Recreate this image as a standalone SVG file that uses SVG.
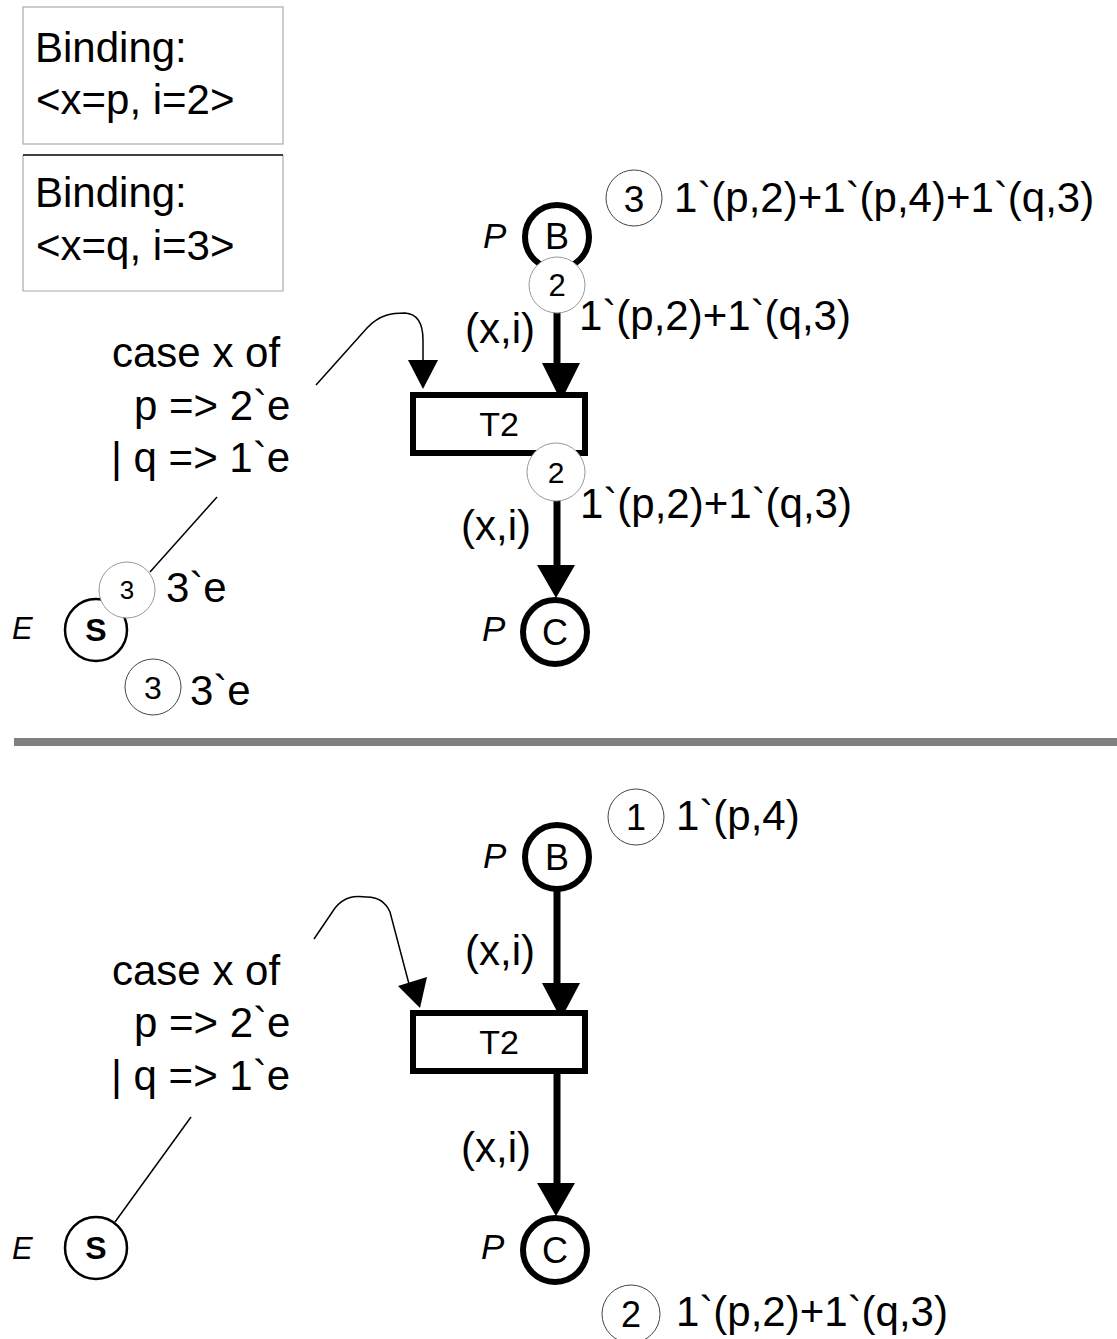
<svg xmlns="http://www.w3.org/2000/svg" width="1117" height="1339" viewBox="0 0 1117 1339">
<style>
text{font-family:"Liberation Sans",Arial,sans-serif;fill:#000}
.big{font-size:42px}
.it{font-style:italic;font-size:35px}
.place{fill:#fff;stroke:#000;stroke-width:6}
.splace{fill:#fff;stroke:#000;stroke-width:2.5}
.trans{fill:#fff;stroke:#000;stroke-width:6}
.tok{fill:#fff;stroke:#444;stroke-width:1}
.tokl{fill:#fff;stroke:#999;stroke-width:1}
.arc{stroke:#000;stroke-width:7;fill:none}
.thin{stroke:#000;stroke-width:1.5;fill:none}
.head{fill:#000}
.box{fill:#fff;stroke:#aaa;stroke-width:1.2}
</style>
<rect width="1117" height="1339" fill="#fff"/>

<!-- Binding boxes -->
<g id="binding1">
<rect class="box" x="23" y="7" width="260" height="137"/>
<text class="big" x="35" y="62">Binding:</text>
<text class="big" x="36" y="114">&lt;x=p, i=2&gt;</text>
</g>
<g id="binding2">
<path d="M23 155 V291 H283 V155" fill="#fff" stroke="#aaa" stroke-width="1.2"/>
<line x1="23" y1="155" x2="283" y2="155" stroke="#000" stroke-width="1.5"/>
<text class="big" x="35" y="207">Binding:</text>
<text class="big" x="36" y="260">&lt;x=q, i=3&gt;</text>
</g>

<!-- Connectors -->
<g id="connectors">
<line class="arc" x1="557" y1="268" x2="557" y2="366"/>
<polygon class="head" points="542,363 580,363 561,401"/>
<line class="arc" x1="557" y1="456" x2="557" y2="568"/>
<polygon class="head" points="537,565 575,565 556,598"/>
<path class="thin" d="M316 385 L367 328 C380 314 393 313 405 313 C419 314 423 325 423 340 L423 362"/>
<polygon class="head" points="408,360 438,360 423,389"/>
<line class="thin" x1="217" y1="497" x2="150" y2="572"/>

<line class="arc" x1="557" y1="889" x2="557" y2="986"/>
<polygon class="head" points="542,983 580,983 561,1019"/>
<line class="arc" x1="557" y1="1074" x2="557" y2="1186"/>
<polygon class="head" points="537,1183 575,1183 556,1216"/>
<path class="thin" d="M314 939 L335 908 C347 893 360 897 367 897 C378 897 386 903 390 912 L409 984"/>
<polygon class="head" points="398,986 427,977 420,1008"/>
<line class="thin" x1="191" y1="1117" x2="115" y2="1222"/>
</g>

<!-- Upper net -->
<g id="placeB1">
<circle class="place" cx="557" cy="237" r="32"/>
<text x="557" y="249" font-size="36" text-anchor="middle">B</text>
<text class="it" x="483" y="248">P</text>
</g>
<g id="tokB1">
<circle class="tok" cx="634" cy="198" r="28"/>
<text x="634" y="212" font-size="37" text-anchor="middle">3</text>
<text class="big" x="674" y="212">1`(p,2)+1`(p,4)+1`(q,3)</text>
</g>
<g id="bindTokIn1">
<circle class="tokl" cx="557" cy="285" r="28"/>
<text x="557" y="296" font-size="31" text-anchor="middle">2</text>
<text class="big" x="579" y="330">1`(p,2)+1`(q,3)</text>
</g>
<g id="transT2a">
<rect class="trans" x="413" y="395" width="172" height="58"/>
<text x="499" y="436" font-size="34" text-anchor="middle">T2</text>
</g>
<g id="bindTokOut1">
<circle class="tokl" cx="556" cy="472" r="29"/>
<text x="556" y="483" font-size="30" text-anchor="middle">2</text>
<text class="big" x="580" y="518">1`(p,2)+1`(q,3)</text>
</g>
<text class="big" x="465" y="343">(x,i)</text>
<text class="big" x="461" y="540">(x,i)</text>
<g id="placeC1">
<circle class="place" cx="555" cy="632" r="32"/>
<text x="555" y="645" font-size="36" text-anchor="middle">C</text>
<text class="it" x="482" y="641">P</text>
</g>
<g id="inscr1">
<text class="big" x="112" y="367">case x of</text>
<text class="big" x="134" y="420">p =&gt; 2`e</text>
<text class="big" x="111" y="472">| q =&gt; 1`e</text>
</g>
<g id="placeS1">
<circle class="splace" cx="96" cy="630" r="31"/>
<text x="96" y="641" font-size="32" font-weight="bold" text-anchor="middle">S</text>
<text x="12" y="639" font-size="31" font-style="italic">E</text>
</g>
<g id="tokS1">
<circle class="tokl" cx="127" cy="590" r="28"/>
<text x="127" y="599" font-size="26" text-anchor="middle">3</text>
<text class="big" x="166" y="602">3`e</text>
</g>
<g id="tokS1b">
<circle class="tok" cx="153" cy="687" r="28"/>
<text x="153" y="699" font-size="32" text-anchor="middle">3</text>
<text class="big" x="190" y="705">3`e</text>
</g>

<!-- separator -->
<rect x="14" y="738" width="1103" height="8" fill="#808080"/>

<!-- Lower net -->
<g id="placeB2">
<circle class="place" cx="557" cy="857" r="32"/>
<text x="557" y="870" font-size="36" text-anchor="middle">B</text>
<text class="it" x="483" y="868">P</text>
</g>
<g id="tokB2">
<circle class="tok" cx="636" cy="817" r="28"/>
<text x="636" y="830" font-size="36" text-anchor="middle">1</text>
<text class="big" x="676" y="830">1`(p,4)</text>
</g>
<g id="transT2b">
<rect class="trans" x="413" y="1013" width="172" height="58"/>
<text x="499" y="1054" font-size="34" text-anchor="middle">T2</text>
</g>
<text class="big" x="465" y="965">(x,i)</text>
<text class="big" x="461" y="1162">(x,i)</text>
<g id="placeC2">
<circle class="place" cx="555" cy="1250" r="32"/>
<text x="555" y="1263" font-size="36" text-anchor="middle">C</text>
<text class="it" x="481" y="1259">P</text>
</g>
<g id="tokC2">
<circle class="tok" cx="631" cy="1314" r="29"/>
<text x="631" y="1327" font-size="36" text-anchor="middle">2</text>
<text class="big" x="676" y="1326">1`(p,2)+1`(q,3)</text>
</g>
<g id="inscr2">
<text class="big" x="112" y="985">case x of</text>
<text class="big" x="134" y="1037">p =&gt; 2`e</text>
<text class="big" x="111" y="1090">| q =&gt; 1`e</text>
</g>
<g id="placeS2">
<circle class="splace" cx="96" cy="1248" r="31"/>
<text x="96" y="1259" font-size="32" font-weight="bold" text-anchor="middle">S</text>
<text x="12" y="1259" font-size="31" font-style="italic">E</text>
</g>
</svg>
